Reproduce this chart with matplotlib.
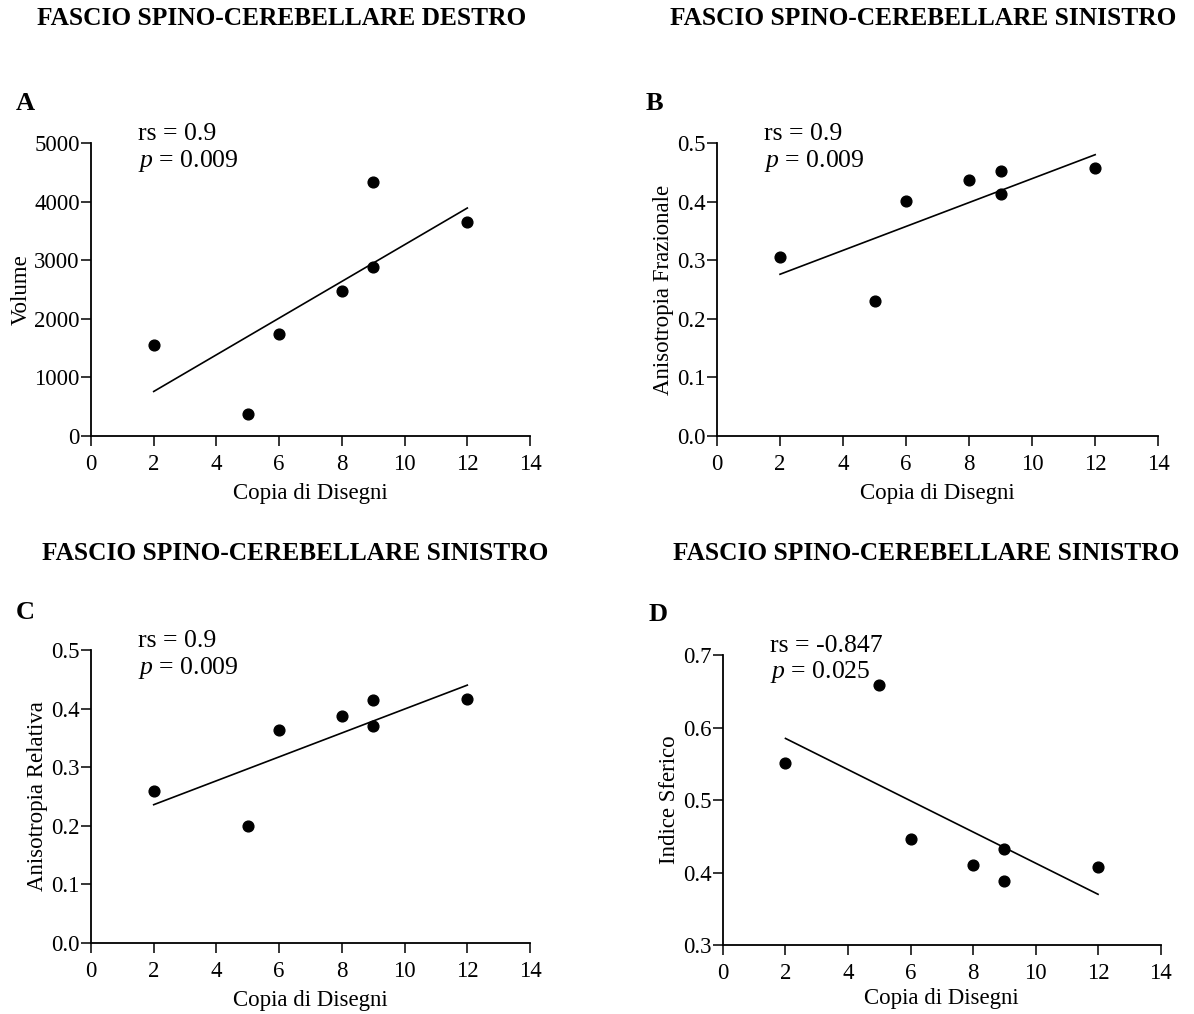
import matplotlib
matplotlib.use('Agg')
import matplotlib.pyplot as plt

plt.rcParams['font.family'] = ['Liberation Serif', 'DejaVu Serif']
plt.rcParams['mathtext.fontset'] = 'custom'
plt.rcParams['mathtext.it'] = 'Liberation Serif:italic'
plt.rcParams['mathtext.rm'] = 'Liberation Serif'

# data
copia = [2, 5, 6, 8, 9, 9, 12]
volume = [1550, 370, 1740, 2470, 2880, 4330, 3660]
fa = [0.305, 0.230, 0.401, 0.437, 0.413, 0.453, 0.457]
ra = [0.260, 0.200, 0.363, 0.388, 0.371, 0.415, 0.417]
sferico = [0.551, 0.659, 0.446, 0.410, 0.388, 0.432, 0.407]

fit_x = [2, 12]
fit_volume = [760, 3890]
fit_fa = [0.276, 0.480]
fit_ra = [0.236, 0.440]
fit_sferico = [0.585, 0.370]

titles = ['FASCIO SPINO-CEREBELLARE DESTRO', 'FASCIO SPINO-CEREBELLARE SINISTRO',
          'FASCIO SPINO-CEREBELLARE SINISTRO', 'FASCIO SPINO-CEREBELLARE SINISTRO']
letters = ['A', 'B', 'C', 'D']
ylabels = ['Volume', 'Anisotropia Frazionale', 'Anisotropia Relativa', 'Indice Sferico']
rs_text = ['0.9', '0.9', '0.9', '-0.847']
p_text = ['0.009', '0.009', '0.009', '0.025']

fig = plt.figure(figsize=(11.94, 10.14), dpi=100)

boxes = [
    [0.0762, 0.570, 0.3677, 0.289],
    [0.6005, 0.570, 0.3695, 0.289],
    [0.0762, 0.070, 0.3677, 0.289],
    [0.6055, 0.068, 0.3665, 0.286],
]
ydata = [volume, fa, ra, sferico]
yfits = [fit_volume, fit_fa, fit_ra, fit_sferico]
ylims = [(0, 5000), (0, 0.5), (0, 0.5), (0.3, 0.7)]
yticks = [[0, 1000, 2000, 3000, 4000, 5000],
          [0.0, 0.1, 0.2, 0.3, 0.4, 0.5],
          [0.0, 0.1, 0.2, 0.3, 0.4, 0.5],
          [0.3, 0.4, 0.5, 0.6, 0.7]]
ylabs = [['0', '1000', '2000', '3000', '4000', '5000'],
         ['0.0', '0.1', '0.2', '0.3', '0.4', '0.5'],
         ['0.0', '0.1', '0.2', '0.3', '0.4', '0.5'],
         ['0.3', '0.4', '0.5', '0.6', '0.7']]
xlabelpads = [6, 6, 6, 3]
# title centres (x) and heights in figure coords
title_pos = [(0.236, 0.982), (0.773, 0.982), (0.247, 0.454), (0.776, 0.454)]
letter_pos = [(0.013, 0.898), (0.541, 0.898), (0.013, 0.396), (0.543, 0.394)]

for i in range(4):
    ax = fig.add_axes(boxes[i])
    ax.scatter(copia, ydata[i], s=60, color='black', zorder=3)
    ax.plot(fit_x, yfits[i], color='black', linewidth=1.2)
    ax.set_xlim(0, 14)
    ax.set_ylim(*ylims[i])
    ax.set_xticks(range(0, 15, 2))
    ax.set_yticks(yticks[i])
    ax.set_yticklabels(ylabs[i])
    ax.spines['top'].set_visible(False)
    ax.spines['right'].set_visible(False)
    ax.spines['left'].set_linewidth(1.3)
    ax.spines['bottom'].set_linewidth(1.3)
    ax.tick_params(direction='out', length=7.5, width=1.1, labelsize=16.5)
    ax.tick_params(axis='y', pad=0.5)
    ax.tick_params(axis='x', pad=5.5)
    ax.set_xlabel('Copia di Disegni', fontsize=16.5, labelpad=xlabelpads[i])
    ax.set_ylabel(ylabels[i], fontsize=16.5, labelpad=2)
    ax.text(0.107, 1.03, 'rs = ' + rs_text[i], transform=ax.transAxes,
            fontsize=18.5, va='center', ha='left')
    ax.text(0.107, 0.94, '$p$ = ' + p_text[i], transform=ax.transAxes,
            fontsize=18.5, va='center', ha='left')
    fig.text(title_pos[i][0], title_pos[i][1], titles[i], fontsize=18.3,
             fontweight='bold', ha='center', va='center')
    fig.text(letter_pos[i][0], letter_pos[i][1], letters[i], fontsize=19,
             fontweight='bold', ha='left', va='center')

fig.savefig('out.png', dpi=100)
